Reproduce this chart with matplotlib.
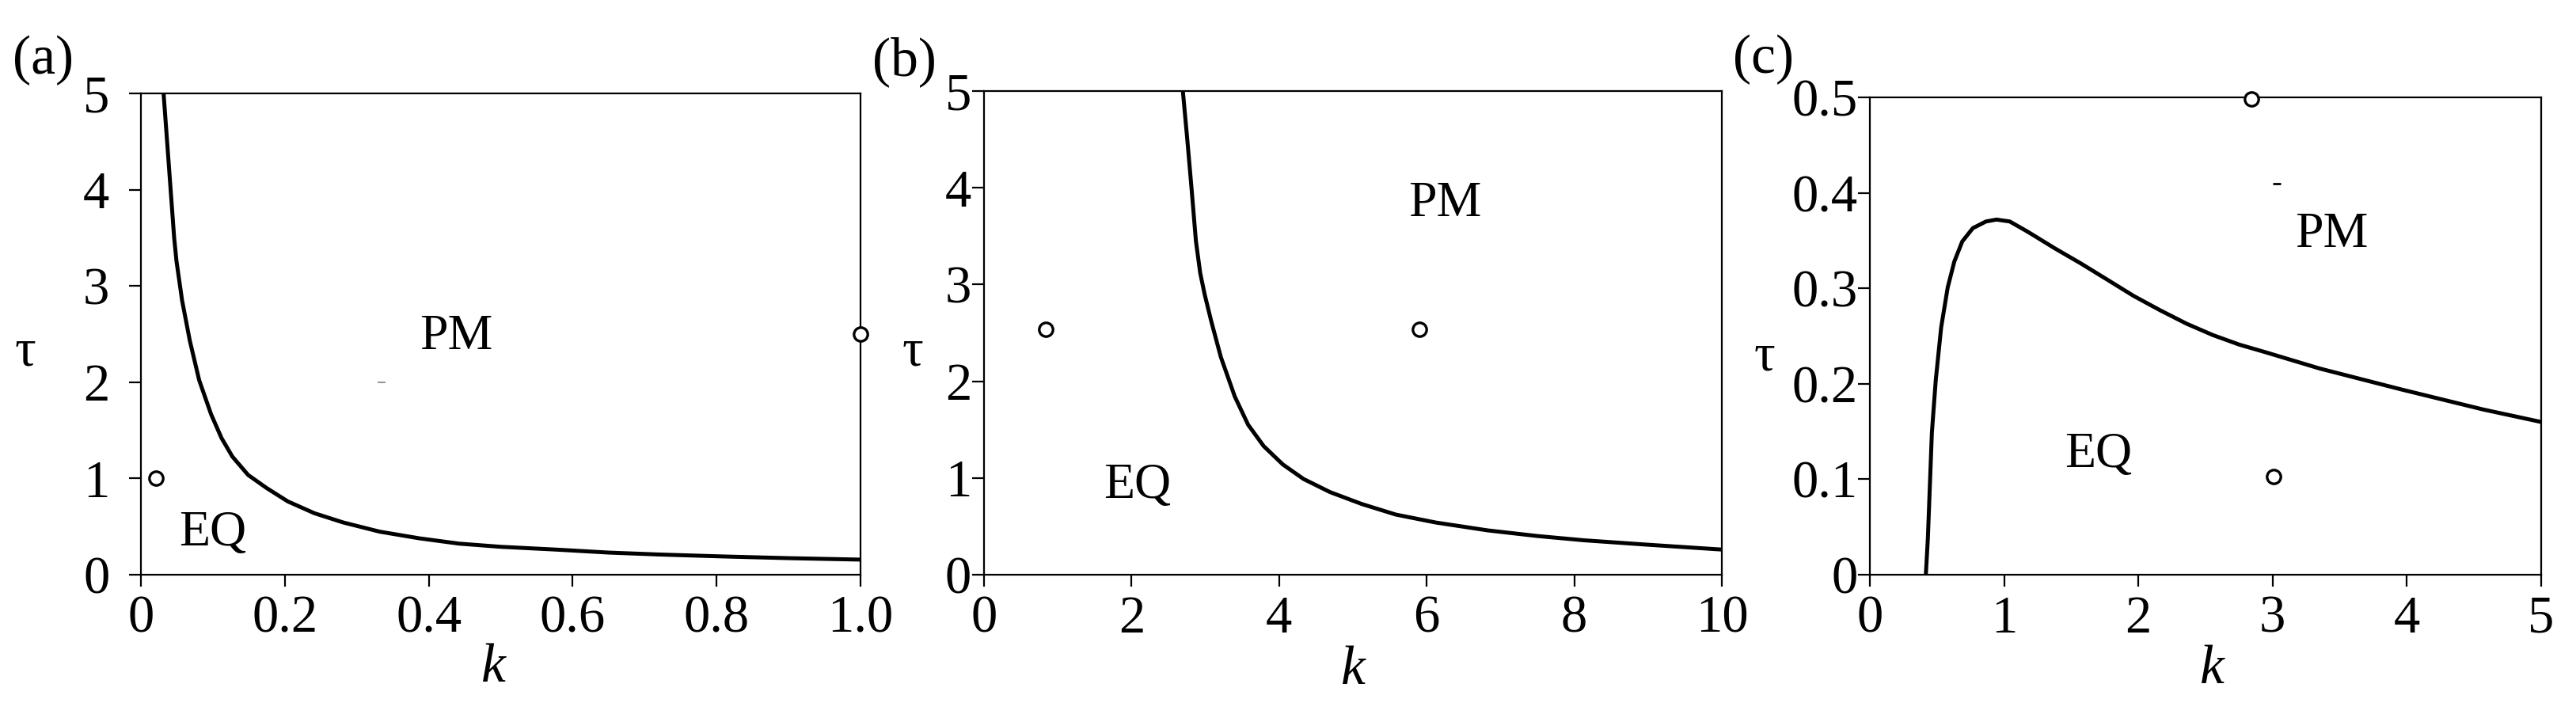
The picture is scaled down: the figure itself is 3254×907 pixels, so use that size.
import matplotlib
matplotlib.use("Agg")
import matplotlib.pyplot as plt

plt.rcParams['font.family'] = ['Liberation Serif', 'DejaVu Serif']

# ---------------- data ----------------
# Panel (a): boundary curve
a_k = [0.0315, 0.0462, 0.0494, 0.0572, 0.068, 0.081, 0.0975, 0.112, 0.127, 0.149,
       0.175, 0.204, 0.241, 0.281, 0.332, 0.387, 0.442, 0.50, 0.577, 0.65, 0.72,
       0.808, 0.90, 1.0]
a_tau = [5.00, 3.50, 3.26, 2.85, 2.43, 2.02, 1.667, 1.42, 1.228, 1.036,
         0.899, 0.762, 0.639, 0.543, 0.447, 0.378, 0.323, 0.29, 0.261, 0.23, 0.21,
         0.19, 0.172, 0.157]
a_pts_k = [0.021, 1.0]
a_pts_tau = [1.0, 2.5]
a_dash = (0.334, 2.0)
a_xticks = [0, 0.2, 0.4, 0.6, 0.8, 1.0]
a_xticklabels = ['0', '0.2', '0.4', '0.6', '0.8', '1.0']
a_yticks = [0, 1, 2, 3, 4, 5]
a_yticklabels = ['0', '1', '2', '3', '4', '5']

# Panel (b): boundary curve
b_k = [2.695, 2.755, 2.812, 2.872, 2.93, 2.99, 3.08, 3.21, 3.40, 3.58, 3.79, 4.05,
       4.33, 4.69, 5.12, 5.58, 6.12, 6.83, 7.50, 8.13, 9.00, 10.0]
b_tau = [5.00, 4.50, 4.00, 3.45, 3.12, 2.90, 2.62, 2.25, 1.84, 1.55, 1.33, 1.14,
         0.99, 0.854, 0.731, 0.622, 0.540, 0.458, 0.40, 0.356, 0.31, 0.26]
b_pts_k = [0.835, 5.90]
b_pts_tau = [2.54, 2.54]
b_xticks = [0, 2, 4, 6, 8, 10]
b_xticklabels = ['0', '2', '4', '6', '8', '10']
b_yticks = [0, 1, 2, 3, 4, 5]
b_yticklabels = ['0', '1', '2', '3', '4', '5']

# Panel (c): boundary curve
c_k = [0.417, 0.432, 0.462, 0.491, 0.531, 0.580, 0.629, 0.688, 0.767, 0.865, 0.943,
       1.042, 1.179, 1.376, 1.572, 1.769, 1.965, 2.162, 2.358, 2.555, 2.752, 2.948,
       3.35, 3.96, 4.57, 5.0]
c_tau = [0.0, 0.038, 0.149, 0.204, 0.259, 0.301, 0.328, 0.349, 0.363, 0.370, 0.372,
         0.370, 0.359, 0.342, 0.326, 0.309, 0.292, 0.277, 0.263, 0.251, 0.241, 0.233,
         0.216, 0.194, 0.173, 0.160]
c_pts_k = [2.84, 3.01]
c_pts_tau = [0.498, 0.103]
c_dash = (3.03, 0.41)
c_xticks = [0, 1, 2, 3, 4, 5]
c_xticklabels = ['0', '1', '2', '3', '4', '5']
c_yticks = [0, 0.1, 0.2, 0.3, 0.4, 0.5]
c_yticklabels = ['0', '0.1', '0.2', '0.3', '0.4', '0.5']

# ---------------- layout ----------------
W, H = 3254, 907
fig = plt.figure(figsize=(W / 100, H / 100), dpi=100)


def add_ax(left, right, top, bottom):
    return fig.add_axes([left / W, 1 - bottom / H, (right - left) / W, (bottom - top) / H])


FS = 48
LW_SP = 1.6

axA = add_ax(178, 1087, 118, 726)
axB = add_ax(1243, 2175, 115, 726)
axC = add_ax(2362, 3210, 123, 726)

configs = [
    (axA, a_k, a_tau, a_pts_k, a_pts_tau, (0, 1), (0, 5), a_xticks, a_xticklabels,
     a_yticks, a_yticklabels, 18, (-0.161, 0.462), (0.49, -0.195)),
    (axB, b_k, b_tau, b_pts_k, b_pts_tau, (0, 10), (0, 5), b_xticks, b_xticklabels,
     b_yticks, b_yticklabels, 1, (-0.097, 0.46), (0.5, -0.198)),
    (axC, c_k, c_tau, c_pts_k, c_pts_tau, (0, 5), (0, 0.5), c_xticks, c_xticklabels,
     c_yticks, c_yticklabels, 0.5, (-0.157, 0.456), (0.51, -0.2)),
]

for (ax, xk, yt, pk, pt, xl, yl, xt, xtl, ytk, ytl, ypad, ylab, xlab) in configs:
    ax.plot(xk, yt, color='black', lw=3.6, solid_capstyle='round',
            solid_joinstyle='round', zorder=3)
    ax.plot(pk, pt, linestyle='none', marker='o', markersize=12.5, markerfacecolor='white',
            markeredgecolor='black', markeredgewidth=2.4, clip_on=False, zorder=4)
    ax.set_xlim(*xl)
    ax.set_ylim(*yl)
    ax.set_xticks(xt)
    ax.set_xticklabels(xtl)
    ax.set_yticks(ytk)
    ax.set_yticklabels(ytl)
    ax.tick_params(axis='both', direction='out', length=10.5, width=LW_SP,
                   labelsize=FS, top=False, right=False)
    ax.tick_params(axis='x', pad=8)
    ax.tick_params(axis='y', pad=ypad)
    for sp in ax.spines.values():
        sp.set_linewidth(LW_SP)
    ax.set_ylabel('τ', fontsize=FS, rotation=0, va='center', ha='center')
    ax.yaxis.set_label_coords(*ylab)
    ax.set_xlabel('k', fontsize=FS + 2, fontstyle='italic', va='center', ha='center')
    ax.xaxis.set_label_coords(*xlab)

# tiny stray dashes seen in the figure
axA.plot([a_dash[0]], [a_dash[1]], marker='_', markersize=7, color='0.6', mew=1.5, linestyle='none')
axC.plot([c_dash[0]], [c_dash[1]], marker='_', markersize=7, color='black', mew=2, linestyle='none')

# region labels
axA.text(0.438, 2.47, 'PM', fontsize=46, ha='center', va='center')
axA.text(0.100, 0.43, 'EQ', fontsize=46, ha='center', va='center')
axB.text(6.25, 3.83, 'PM', fontsize=46, ha='center', va='center')
axB.text(2.08, 0.92, 'EQ', fontsize=46, ha='center', va='center')
axC.text(3.44, 0.356, 'PM', fontsize=46, ha='center', va='center')
axC.text(1.70, 0.125, 'EQ', fontsize=46, ha='center', va='center')

# panel letters
for lab, (px, py) in [('(a)', (54, 76)), ('(b)', (1142, 78)), ('(c)', (2228, 75))]:
    fig.text(px / W, 1 - py / H, lab, fontsize=50, ha='center', va='center')

fig.savefig('out.png', dpi=100)
